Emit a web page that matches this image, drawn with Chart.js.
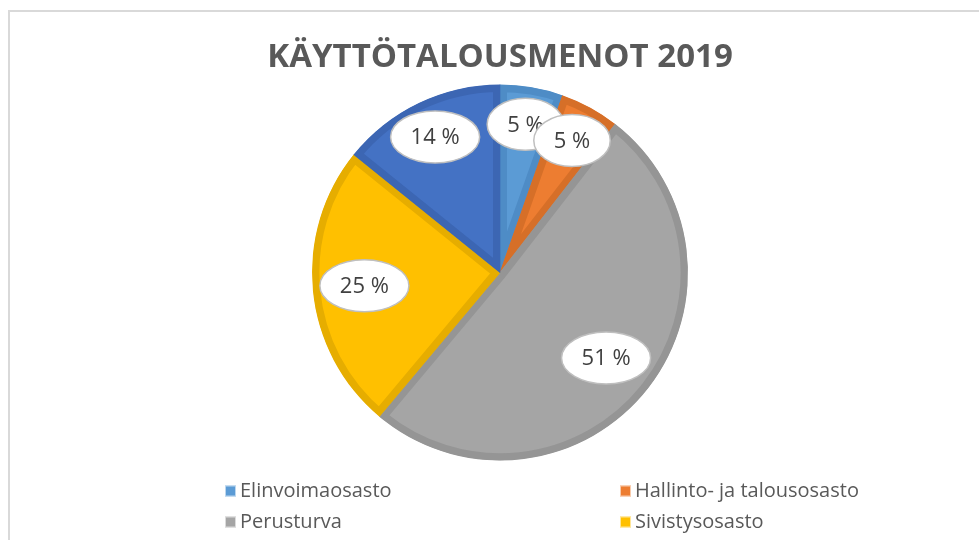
<!DOCTYPE html>
<html>
<head>
<meta charset="utf-8">
<script src="https://cdn.jsdelivr.net/npm/chart.js@4.4.1/dist/chart.umd.min.js"></script>
<style>
  html, body { margin: 0; padding: 0; background: #fff; overflow: hidden; }
  #frame {
    position: absolute; left: 8px; top: 10px;
    width: 980px; height: 580px;
    border-left: 2px solid #d9d9d9; border-top: 2px solid #d9d9d9;
  }
</style>
</head>
<body>
<div id="frame"><canvas id="myChart" width="980" height="580"></canvas></div>
<script>
/* Käyttötalousmenot 2019 - osuudet (%) */
const labels = [
  'Elinvoimaosasto',
  'Hallinto- ja talousosasto',
  'Perusturva',
  'Sivistysosasto',
  'Tekninen osasto'
];
const shares = [5.4, 5.1, 50.6, 24.7, 14.2];
const fillColors = ['#5B9BD5', '#ED7D31', '#A5A5A5', '#FFC000', '#4472C4'];
const edgeColors = ['#4E8CC6', '#D66F28', '#959595', '#E6AD00', '#3C66B3'];

// ellipsit prosenttiluvuille
const ellipseLabels = {
  id: 'ellipseLabels',
  afterDatasetsDraw(chart) {
    const ctx = chart.ctx;
    const meta = chart.getDatasetMeta(0);
    const data = chart.data.datasets[0].data;
    const total = data.reduce((a, b) => a + b, 0);
    ctx.save();
    ctx.font = '22px "Open Sans"';
    ctx.textAlign = 'center';
    ctx.textBaseline = 'middle';
    meta.data.forEach((arc, i) => {
      const p = arc.getProps(['x', 'y', 'startAngle', 'endAngle', 'outerRadius'], true);
      const share = data[i] / total;
      const mid = (p.startAngle + p.endAngle) / 2;
      const r = p.outerRadius * (share < 0.2 ? 0.8 : 0.725);
      const x = p.x + Math.cos(mid) * r;
      const y = p.y + Math.sin(mid) * r;
      const txt = Math.round(share * 100) + ' %';
      const w = ctx.measureText(txt).width + 40;
      ctx.beginPath();
      ctx.ellipse(x, y, w / 2, 26, 0, 0, Math.PI * 2);
      ctx.fillStyle = '#ffffff';
      ctx.fill();
      ctx.lineWidth = 1.5;
      ctx.strokeStyle = '#BFBFBF';
      ctx.stroke();
      ctx.fillStyle = '#404040';
      ctx.fillText(txt, x, y + 1);
    });
    ctx.restore();
  }
};

// selite kahdessa sarakkeessa
const twoColLegend = {
  id: 'twoColLegend',
  afterDraw(chart) {
    const ctx = chart.ctx;
    const top = 479;
    const cols = [215, 610];
    ctx.save();
    ctx.font = '20px "Open Sans"';
    ctx.textBaseline = 'middle';
    ctx.textAlign = 'left';
    chart.data.labels.forEach((lab, i) => {
      const x = cols[i % 2];
      const y = top + Math.floor(i / 2) * 31;
      ctx.fillStyle = fillColors[i];
      ctx.fillRect(x, y - 5.5, 11, 11);
      ctx.strokeStyle = 'rgba(255,255,255,0.6)';
      ctx.lineWidth = 1;
      ctx.strokeRect(x + 0.5, y - 5, 10, 10);
      ctx.fillStyle = '#595959';
      ctx.fillText(lab, x + 15, y);
    });
    ctx.restore();
  }
};

const config = {
  type: 'pie',
  data: {
    labels: labels,
    datasets: [{
      data: shares,
      backgroundColor: fillColors,
      borderColor: edgeColors,
      borderWidth: 7,
      borderAlign: 'inner',
      hoverOffset: 0
    }]
  },
  options: {
    responsive: false,
    animation: false,
    layout: { padding: { top: 0, bottom: 131.5, left: 0, right: 0 } },
    plugins: {
      legend: { display: false },
      tooltip: { enabled: false },
      title: {
        display: true,
        text: 'KÄYTTÖTALOUSMENOT 2019',
        color: '#595959',
        font: { family: '"Open Sans"', size: 33, weight: 'bold', lineHeight: 1.2 },
        padding: { top: 26, bottom: 7 }
      }
    }
  },
  plugins: [ellipseLabels, twoColLegend]
};

const myChart = new Chart(document.getElementById('myChart'), config);
</script>
</body>
</html>
